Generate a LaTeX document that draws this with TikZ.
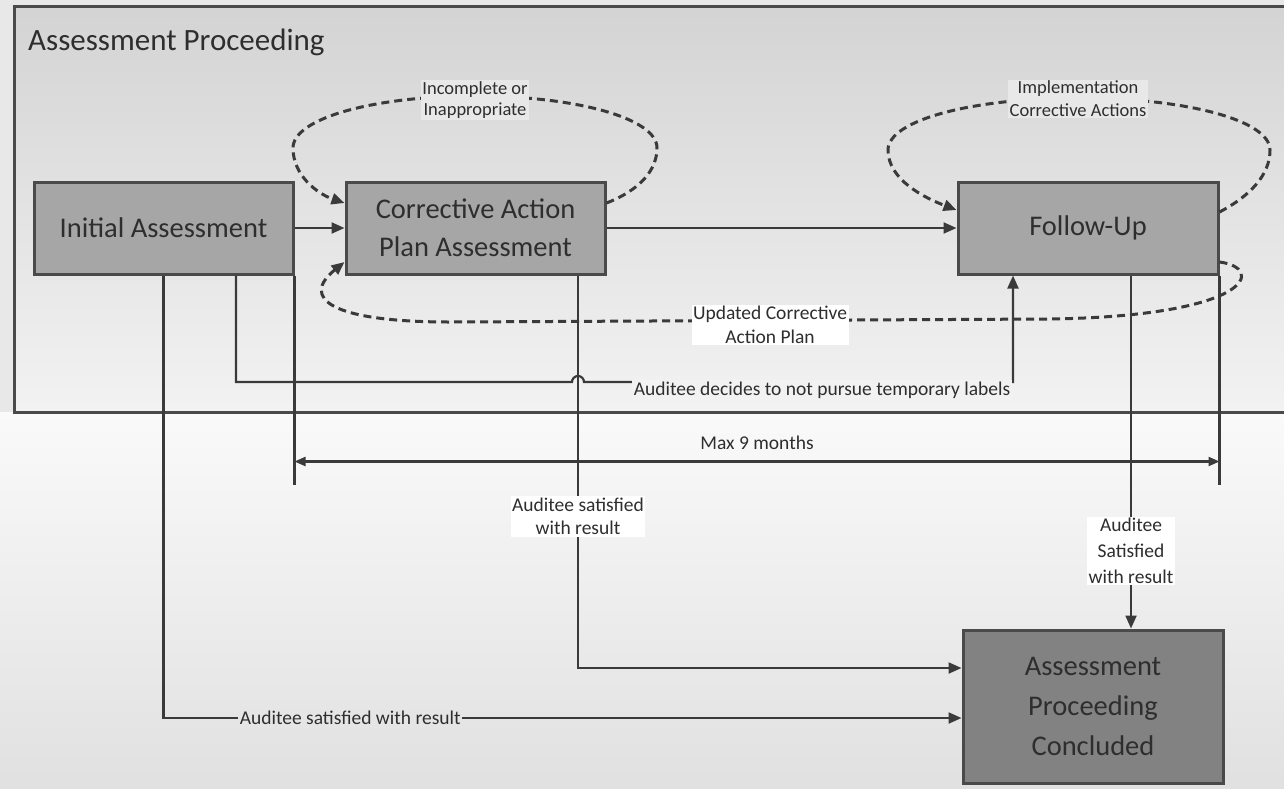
\documentclass[tikz,border=0pt]{standalone}
\usepackage{fontspec}
\setmainfont{Carlito}
\usetikzlibrary{arrows.meta,calc}
\definecolor{linec}{HTML}{3A3A3A}
\definecolor{boxfill}{HTML}{A6A6A6}
\definecolor{boxdark}{HTML}{828282}
\definecolor{boxedge}{HTML}{4A4A4A}
\definecolor{txt}{HTML}{2E2E2E}
\tikzset{
  stepbox/.style={draw=boxedge, line width=3pt, fill=boxfill, text=txt, align=center,
    font=\fontsize{28.5}{38}\selectfont, inner sep=0pt},
  flow/.style={draw=linec, line width=2.2pt, -{Triangle[length=13pt,width=11pt]}},
  plain/.style={draw=linec, line width=2.2pt},
  loopback/.style={draw=linec, line width=3pt, dash pattern=on 8pt off 5pt,
    -{Triangle[length=13pt,width=11pt]}},
  tag/.style={text=txt, align=center, font=\fontsize{19.5}{23.5}\selectfont, inner sep=1.5pt},
}
\begin{document}
\begin{tikzpicture}[x=1pt,y=-1pt]
\useasboundingbox (0,0) rectangle (1284,788);
% backdrop
\fill[black!9] (0,0) rectangle (1284,788);
\shade[top color=black!2, bottom color=black!12] (0,412) rectangle (1284,788);
% enclosing frame
\path[draw=boxedge, line width=3pt, top color=black!17, bottom color=black!5] (14,6) rectangle (1296,412);
\node[anchor=west, text=txt, font=\fontsize{31}{36}\selectfont, inner sep=0pt] (title) at (28,42) {Assessment Proceeding};

% process steps
\node[stepbox, minimum width=259pt, minimum height=92pt] (ia) at (163.5,228) {Initial Assessment};
\node[stepbox, minimum width=259pt, minimum height=92pt] (capa) at (475.5,228) {Corrective Action\\Plan Assessment};
\node[stepbox, minimum width=260pt, minimum height=92pt] (fu) at (1088,228) {Follow-Up};
\node[stepbox, fill=boxdark, minimum width=260pt, minimum height=153pt,
      font=\fontsize{28.5}{40}\selectfont] (done) at (1093,706.5) {Assessment\\Proceeding\\Concluded};

% main flow
\draw[flow] (ia.east) -- (capa.west);
\draw[flow] (capa.east) -- (fu.west);

% rework loop on the plan
\draw[loopback] ([yshift=25pt]capa.east)
  .. controls (640,190) and (657,170) .. (657,148)
  .. controls (657,118) and (575,96) .. (475,96)
  .. controls (375,96) and (293,118) .. (293,148)
  .. controls (293,176) and (318,194) .. ([yshift=25pt]capa.west);
\node[tag, fill=black!9, font=\fontsize{18.5}{21}\selectfont] (rework) at (475,100) {Incomplete or\\Inappropriate};

% implementation loop on the follow-up
\draw[loopback] ([yshift=16pt]fu.east)
  .. controls (1250,196) and (1270,175) .. (1270,150)
  .. controls (1270,120) and (1185,98) .. (1079,98)
  .. controls (973,98) and (888,120) .. (888,150)
  .. controls (888,180) and (925,198) .. ([yshift=18pt]fu.west);
\node[tag, fill=black!9, font=\fontsize{18.5}{23}\selectfont] (impl) at (1078,99) {Implementation\\Corrective Actions};

% updated plan back to the plan assessment
\draw[loopback] ([yshift=-34pt]fu.east)
  .. controls (1266,268) and (1252,316) .. (1050,319)
  -- (450,322)
  .. controls (330,322) and (300,298) .. ([yshift=-34pt]capa.west);
\node[tag, fill=white] (upd) at (770,325) {Updated Corrective\\Action Plan};

% duration marker
\draw[plain] (ia.south east) -- ([yshift=-209pt]ia.south east);
\draw[plain] (fu.south east) -- ([yshift=-209pt]fu.south east);
\draw[draw=linec, line width=2.2pt, {Triangle[length=11pt,width=9pt]}-{Triangle[length=11pt,width=9pt]}]
  ([yshift=-186pt]ia.south east) -- node[tag, above=9pt] (max) {Max 9 months} ([yshift=-186pt]fu.south east);

% temporary labels not pursued
\coordinate (jumpL) at (572,382);
\draw[flow] ([xshift=72.5pt]ia.south) |- (jumpL) arc[start angle=180, end angle=0, radius=6pt]
  -- ([xshift=-75pt]fu.south |- jumpL) -- ([xshift=-75pt]fu.south);
\node[tag, fill=black!5] (skip) at (822,390) {Auditee decides to not pursue temporary labels};

% outcomes to conclusion
\draw[flow] (ia.south) |- node[tag, pos=0.617, fill=black!10] (sat1) {Auditee satisfied with result}
  ([yshift=-11.5pt]done.west);
\draw[flow] ([xshift=102.5pt]capa.south) |- node[tag, pos=0.307, fill=white] (sat2) {Auditee satisfied\\with result}
  ([yshift=38.5pt]done.west);
\draw[flow] ([xshift=43pt]fu.south) -- node[tag, pos=0.78, fill=white, font=\fontsize{19.5}{26}\selectfont] (sat3) {Auditee\\Satisfied\\with result}
  ([xshift=43pt]fu.south |- done.north);
\end{tikzpicture}
\end{document}
